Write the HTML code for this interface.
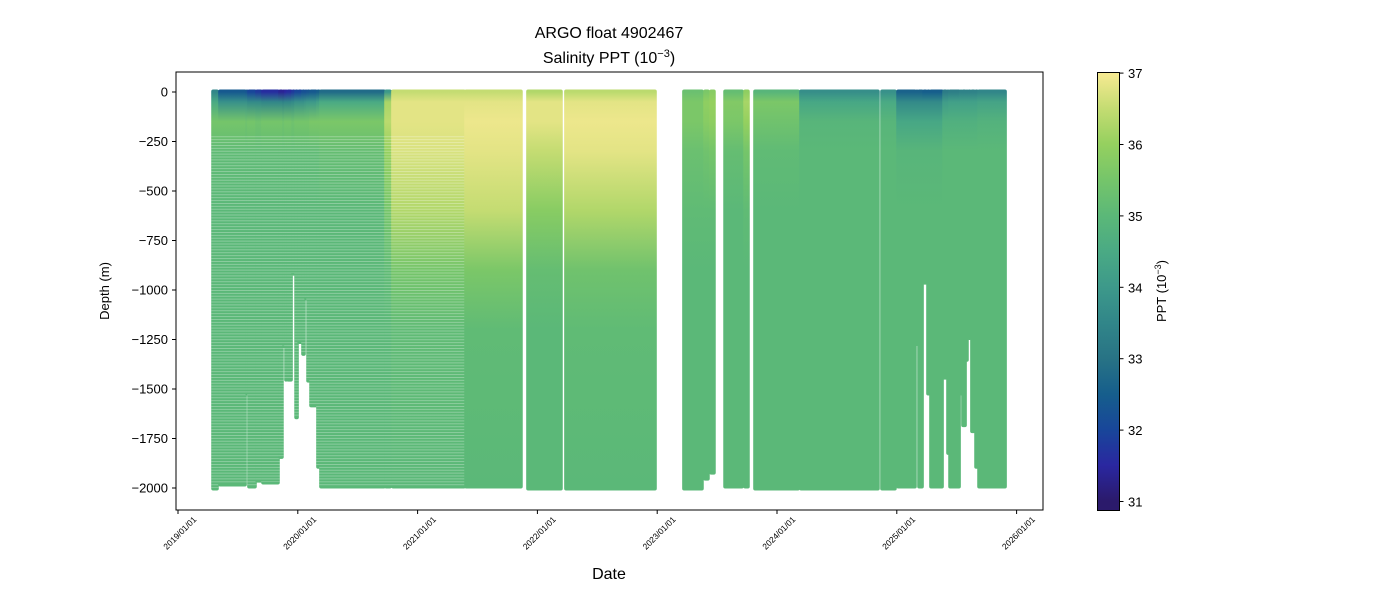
<!DOCTYPE html>
<html><head><meta charset="utf-8"><style>
html,body{margin:0;padding:0;background:#fff;}
svg{display:block;font-family:"Liberation Sans","DejaVu Sans",sans-serif;}
</style></head><body>
<svg id="chart" width="1400" height="600" viewBox="0 0 1400 600">
<defs id="defs">
<pattern id="dots" width="4" height="2.9" patternUnits="userSpaceOnUse">
<rect x="0" y="0" width="4" height="0.8" fill="#fff" fill-opacity="0.35"/>
</pattern>
<linearGradient id="cbar" x1="0" y1="1" x2="0" y2="0"></linearGradient>
</defs>
<g id="plot"></g>
<rect x="176" y="72" width="867" height="438" fill="none" stroke="#000" stroke-width="1"/>
<g id="axes"></g>
<text x="609" y="38" font-size="16" text-anchor="middle">ARGO float 4902467</text>
<text x="609" y="63" font-size="16" text-anchor="middle">Salinity PPT (10<tspan baseline-shift="super" font-size="11">−3</tspan>)</text>
<text transform="translate(109,291) rotate(-90)" font-size="13" text-anchor="middle">Depth (m)</text>
<text x="609" y="579" font-size="16" text-anchor="middle">Date</text>
<rect x="1097.5" y="72.5" width="22" height="438" fill="url(#cbar)" stroke="#000" stroke-width="1"/>
<g id="cbaxis"></g>
<text transform="translate(1166,291) rotate(-90)" font-size="13" text-anchor="middle">PPT (10<tspan baseline-shift="super" font-size="9">−3</tspan>)</text>
</svg>
<script>
const depthNodes = [0, 50, 150, 300, 600, 900, 1200, 2000];
const segStart = [0.284,0.342,0.568,0.584,0.651,0.701,0.843,0.876,0.893,0.910,0.952,0.977,1.002,1.035,1.060,1.077,1.102,1.160,1.185,1.728,1.786,2.396,2.913,3.230,4.215,4.391,4.441,4.558,4.725,4.808,5.192,5.868,6.002,6.160,6.177,6.219,6.252,6.277,6.386,6.419,6.436,6.528,6.544,6.578,6.594,6.619,6.653,6.678];
const segEnd   = [0.334,0.568,0.584,0.651,0.701,0.843,0.876,0.893,0.910,0.952,0.977,1.002,1.035,1.060,1.077,1.102,1.160,1.185,1.728,1.778,2.396,2.871,3.205,3.990,4.382,4.432,4.482,4.716,4.766,5.184,5.851,5.993,6.160,6.177,6.219,6.252,6.277,6.386,6.419,6.436,6.528,6.544,6.578,6.594,6.619,6.653,6.678,6.912];
const segDepth = [2000,1980,1520,1990,1960,1970,1840,1280,1450,1450,915,1640,1260,1320,1040,1455,1580,1890,1990,1990,1990,1990,2000,2000,2000,1950,1920,1990,1990,2000,2000,2000,1990,1270,1990,960,1520,1990,1440,1820,1990,1520,1680,1350,1240,1710,1890,1990];
const segSal = [
[33.5,34.5,35.5,35.1,35.0,35.0,35.0,35.0],
[32.4,33.8,35.5,35.1,35.0,35.0,35.0,35.0],
[32.3,33.8,35.4,35.1,35.0,35.0,35.0,35.0],
[32.0,33.6,35.5,35.1,35.0,35.0,35.0,35.0],
[31.8,33.6,35.4,35.1,35.0,35.0,35.0,35.0],
[31.6,33.5,35.5,35.1,35.0,35.0,35.0,35.0],
[31.4,33.5,35.5,35.1,35.0,35.0,35.0,35.0],
[31.4,33.4,35.4,35.1,35.0,35.0,35.0,35.0],
[31.5,33.5,35.5,35.1,35.0,35.0,35.0,35.0],
[31.6,33.5,35.5,35.1,35.0,35.0,35.0,35.0],
[31.8,33.6,35.4,35.1,35.0,35.0,35.0,35.0],
[32.0,33.8,35.5,35.1,35.0,35.0,35.0,35.0],
[32.0,33.8,35.5,35.1,35.0,35.0,35.0,35.0],
[32.2,33.8,35.5,35.1,35.0,35.0,35.0,35.0],
[32.2,33.9,35.5,35.1,35.0,35.0,35.0,35.0],
[32.3,34.0,35.5,35.1,35.0,35.0,35.0,35.0],
[32.4,34.0,35.6,35.1,35.0,35.0,35.0,35.0],
[32.5,34.2,35.6,35.1,35.0,35.0,35.0,35.0],
[32.8,34.5,35.6,35.2,35.0,35.0,35.0,35.0],
[34.0,36.2,36.4,36.0,35.5,35.1,35.0,35.0],
[36.5,36.8,36.8,36.7,36.3,35.5,35.1,35.0],
[36.5,36.8,36.9,36.8,36.5,35.6,35.1,35.0],
[36.3,36.8,36.8,36.5,35.8,35.2,35.0,35.0],
[36.4,36.8,36.9,36.8,36.3,35.4,35.1,35.0],
[35.3,35.6,35.6,35.3,35.1,35.0,35.0,35.0],
[35.6,35.9,35.8,35.4,35.1,35.0,35.0,35.0],
[35.8,36.0,35.9,35.5,35.1,35.0,35.0,35.0],
[35.2,35.7,35.6,35.2,35.0,35.0,35.0,35.0],
[35.9,36.2,36.0,35.5,35.1,35.0,35.0,35.0],
[34.9,35.6,35.4,35.1,35.0,35.0,35.0,35.0],
[33.7,34.4,34.9,35.0,35.0,35.0,35.0,35.0],
[33.8,34.5,34.9,35.0,35.0,35.0,35.0,35.0],
[32.6,33.6,34.4,34.9,35.0,35.0,35.0,35.0],
[32.6,33.6,34.4,34.9,35.0,35.0,35.0,35.0],
[32.6,33.6,34.4,34.9,35.0,35.0,35.0,35.0],
[32.5,33.6,34.4,34.9,35.0,35.0,35.0,35.0],
[32.5,33.6,34.4,34.9,35.0,35.0,35.0,35.0],
[32.5,33.6,34.4,34.9,35.0,35.0,35.0,35.0],
[33.2,34.1,34.7,35.0,35.0,35.0,35.0,35.0],
[33.2,34.1,34.7,35.0,35.0,35.0,35.0,35.0],
[33.3,34.2,34.7,35.0,35.0,35.0,35.0,35.0],
[33.4,34.2,34.7,35.0,35.0,35.0,35.0,35.0],
[33.4,34.2,34.7,35.0,35.0,35.0,35.0,35.0],
[33.4,34.2,34.7,35.0,35.0,35.0,35.0,35.0],
[33.4,34.2,34.7,35.0,35.0,35.0,35.0,35.0],
[33.4,34.2,34.7,35.0,35.0,35.0,35.0,35.0],
[33.4,34.2,34.7,35.0,35.0,35.0,35.0,35.0],
[33.5,34.3,34.8,35.0,35.0,35.0,35.0,35.0]
];
const yTicks = [0, -250, -500, -750, -1000, -1250, -1500, -1750, -2000];
const xTickYears = [0,1,2,3,4,5,6,7];
const xTickLabels = ["2019/01/01","2020/01/01","2021/01/01","2022/01/01","2023/01/01","2024/01/01","2025/01/01","2026/01/01"];
const cbTicks = [31,32,33,34,35,36,37];
const cmapVals = [31,31.5,32,32.5,33,33.5,34,34.5,35,35.5,36,36.5,37];
const cmapCols = ["#2b1a6b","#2a27a0","#18469a","#165e8c","#287385","#318689","#3d998a","#4aaa84","#5bb878","#75c56a","#95d05f","#c4dc72","#f7ea92"];

const NS="http://www.w3.org/2000/svg";
const xS = yr => 178 + yr*119.8;
const yS = d => 92 + d*(396/2000);
const cbY = v => 501.5 - (v-31)*71.4;
function hex(c){return [1,3,5].map(i=>parseInt(c.substr(i,2),16));}
function cmap(v){
  if(v<=cmapVals[0]) return cmapCols[0];
  for(let i=0;i<cmapVals.length-1;i++){
    if(v<=cmapVals[i+1]){
      const t=(v-cmapVals[i])/(cmapVals[i+1]-cmapVals[i]);
      const a=hex(cmapCols[i]),b=hex(cmapCols[i+1]);
      return "rgb("+a.map((x,k)=>Math.round(x+(b[k]-x)*t)).join(",")+")";
    }
  }
  return cmapCols[cmapCols.length-1];
}
function el(tag,attrs,parent){const e=document.createElementNS(NS,tag);for(const k in attrs)e.setAttribute(k,attrs[k]);parent.appendChild(e);return e;}

const defs=document.getElementById('defs');
const plot=document.getElementById('plot');
segStart.forEach((s,i)=>{
  const g=el('linearGradient',{id:'g'+i,gradientUnits:'userSpaceOnUse',x1:0,y1:yS(0),x2:0,y2:yS(2000)},defs);
  depthNodes.forEach((d,k)=>el('stop',{offset:d/2000,'stop-color':cmap(segSal[i][k])},g));
  const x0=xS(s)-0.8, x1=xS(segEnd[i])+0.8;
  const r=el('rect',{x:x0,y:yS(0)-2.5,width:x1-x0,height:yS(segDepth[i])-yS(0)+5,rx:2,fill:'url(#g'+i+')'},plot);
  
  
  if(s<2.39){
    const p=el('rect',{x:x0,y:yS(220),width:x1-x0,height:yS(segDepth[i])-yS(220),fill:'url(#dots)'},plot);
    
    
  }
});

const axes=document.getElementById('axes');
yTicks.forEach(v=>{
  const y=yS(-v);
  el('line',{x1:172,x2:176,y1:y,y2:y,stroke:'#000'},axes);
  const t=el('text',{x:168,y:y+4.5,'font-size':13,'text-anchor':'end'},axes);
  t.textContent=v===0?"0":"−"+Math.abs(v);
  
  
});
xTickYears.forEach((v,i)=>{
  const x=xS(v);
  el('line',{x1:x,x2:x,y1:510,y2:514,stroke:'#000'},axes);
  const t=el('text',{transform:`translate(${x+19},${520}) rotate(-45)`,'font-size':8.5,'text-anchor':'end'},axes);
  t.textContent=xTickLabels[i];
  
  
});
const cg=document.getElementById('cbar');
cmapVals.forEach((v,i)=>el('stop',{offset:(cbY(31-0.13)-cbY(v))/438,'stop-color':cmapCols[i]},cg));
const cba=document.getElementById('cbaxis');
cbTicks.forEach(v=>{
  const y=cbY(v);
  el('line',{x1:1119.5,x2:1123.5,y1:y,y2:y,stroke:'#000'},cba);
  const t=el('text',{x:1128,y:y+5,'font-size':13},cba);
  t.textContent=String(v);
  
  
});
</script>
</body></html>
